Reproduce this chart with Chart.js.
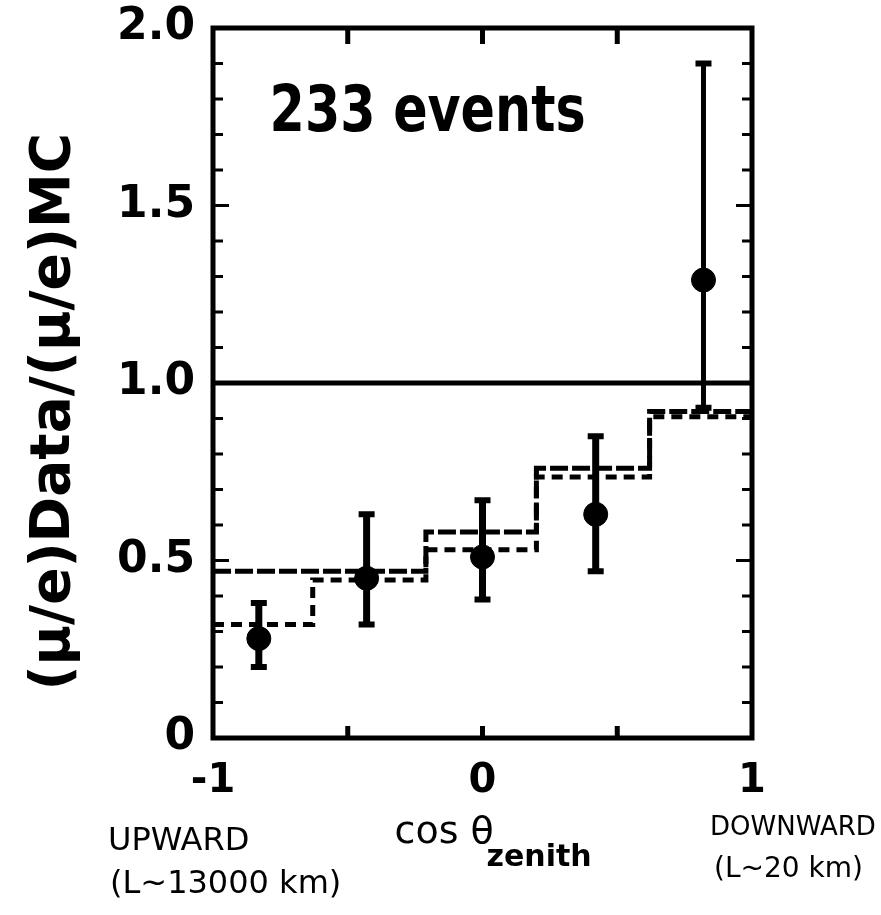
<!DOCTYPE html>
<html>
<head>
<meta charset="utf-8">
<script src="https://cdn.jsdelivr.net/npm/chart.js@4/dist/chart.umd.min.js"></script>
<style>
  body { margin: 0; background: #fff; }
  canvas { display: block; }
</style>
</head>
<body>
<canvas id="chart" width="881" height="915"></canvas>
<script>
// bin edges in cos(zenith)
const binEdges = [-1, -0.63, -0.21, 0.2, 0.62, 1];
// the two MC expectation histograms (one value per bin)
const mcUpper = [0.47, 0.47, 0.58, 0.76, 0.92];
const mcLower = [0.32, 0.445, 0.53, 0.735, 0.905];
// data points with errors
const cosZenith = [-0.83, -0.43, 0.0, 0.42, 0.82];
const ratio = [0.28, 0.45, 0.51, 0.63, 1.29];
const errLow = [0.20, 0.32, 0.39, 0.47, 0.93];
const errHigh = [0.38, 0.63, 0.67, 0.85, 1.90];
const noOscillation = [1.0, 1.0];
const yTickLabels = { 0: "0", 5: "0.5", 10: "1.0", 15: "1.5", 20: "2.0" };
const xTickLabels = { "-1": "-1", "0": "0", "1": "1" };

function histPoints(values) {
  // stepped line: each point's y holds until the next edge
  const pts = values.map((v, i) => ({ x: binEdges[i], y: v }));
  pts.push({ x: binEdges[binEdges.length - 1], y: values[values.length - 1] });
  return pts;
}

const errorBars = {
  id: "errorBars",
  afterDatasetsDraw(chart) {
    const { ctx, scales: { x, y } } = chart;
    ctx.save();
    ctx.strokeStyle = "#000";
    cosZenith.forEach((c, i) => {
      const px = x.getPixelForValue(c);
      const lo = y.getPixelForValue(errLow[i]);
      const hi = y.getPixelForValue(errHigh[i]);
      ctx.lineWidth = i === 4 ? 5 : 7;
      ctx.beginPath();
      ctx.moveTo(px, lo);
      ctx.lineTo(px, hi);
      ctx.stroke();
      ctx.lineWidth = 6;
      ctx.beginPath();
      ctx.moveTo(px - 8, lo); ctx.lineTo(px + 8, lo);
      ctx.moveTo(px - 8, hi); ctx.lineTo(px + 8, hi);
      ctx.stroke();
    });
    ctx.restore();
  }
};

const frame = {
  id: "frame",
  afterDraw(chart) {
    const { ctx, chartArea: a, scales: { x, y } } = chart;
    ctx.save();
    ctx.strokeStyle = "#000";
    ctx.fillStyle = "#000";
    ctx.lineWidth = 5;
    ctx.strokeRect(a.left, a.top, a.right - a.left, a.bottom - a.top);

    // inward ticks on left and right
    ctx.lineWidth = 3;
    y.ticks.forEach((t) => {
      const k = Math.round(t.value * 10);
      if (k === 0 || k === 20) return;
      const len = k % 5 === 0 ? 16 : 10;
      const py = y.getPixelForValue(t.value);
      ctx.beginPath();
      ctx.moveTo(a.left, py); ctx.lineTo(a.left + len, py);
      ctx.moveTo(a.right, py); ctx.lineTo(a.right - len, py);
      ctx.stroke();
    });
    // inward ticks on top and bottom
    ctx.lineWidth = 5;
    x.ticks.forEach((t) => {
      if (Math.abs(t.value) > 0.99) return;
      const px = x.getPixelForValue(t.value);
      ctx.beginPath();
      ctx.moveTo(px, a.top); ctx.lineTo(px, a.top + 16);
      ctx.moveTo(px, a.bottom); ctx.lineTo(px, a.bottom - 12);
      ctx.stroke();
    });

    // annotation inside the plot
    ctx.font = 'bold 64px "DejaVu Sans Condensed", "DejaVu Sans", sans-serif';
    ctx.textBaseline = "alphabetic";
    ctx.textAlign = "left";
    ctx.fillText("233 events", x.getPixelForValue(-0.79), y.getPixelForValue(1.71), 316);

    // labels under the x axis
    const x0 = x.getPixelForValue(-1), xm = x.getPixelForValue(0), x1 = x.getPixelForValue(1);
    ctx.font = '32px "DejaVu Sans", sans-serif';
    ctx.fillText("UPWARD", x0 - 105, 850);
    ctx.fillText("(L~13000 km)", x0 - 103, 893);
    ctx.font = '38px "DejaVu Sans", sans-serif';
    ctx.fillText("cos θ", xm - 88, 843);
    ctx.font = 'bold 30px "DejaVu Sans", sans-serif';
    ctx.fillText("zenith", xm + 4, 866);
    ctx.font = '26px "DejaVu Sans", sans-serif';
    ctx.fillText("DOWNWARD", x1 - 42, 835);
    ctx.font = '28px "DejaVu Sans", sans-serif';
    ctx.fillText("(L~20 km)", x1 - 38, 877);
    ctx.restore();
  }
};

new Chart(document.getElementById("chart"), {
  type: "scatter",
  data: {
    datasets: [
      {
        type: "line",
        data: histPoints(mcUpper),
        stepped: true,
        borderColor: "#000",
        borderWidth: 5,
        borderDash: [18, 4],
        pointRadius: 0,
        fill: false,
      },
      {
        type: "line",
        data: histPoints(mcLower),
        stepped: true,
        borderColor: "#000",
        borderWidth: 5,
        borderDash: [11, 7],
        pointRadius: 0,
        fill: false,
      },
      {
        type: "line",
        data: noOscillation.map((v, i) => ({ x: binEdges[0] + i * 2, y: v })),
        borderColor: "#000",
        borderWidth: 5,
        pointRadius: 0,
        fill: false,
      },
      {
        data: cosZenith.map((c, i) => ({ x: c, y: ratio[i] })),
        backgroundColor: "#000",
        borderColor: "#000",
        pointRadius: 12,
        pointHoverRadius: 12,
      },
    ],
  },
  options: {
    responsive: false,
    animation: false,
    layout: { padding: { top: 28, right: 129, left: 0, bottom: 0 } },
    plugins: { legend: { display: false }, tooltip: { enabled: false } },
    scales: {
      x: {
        type: "linear",
        min: -1,
        max: 1,
        grid: { display: false },
        border: { display: false },
        ticks: {
          stepSize: 0.5,
          padding: 12,
          color: "#000",
          font: { family: "DejaVu Sans", size: 40, weight: "bold" },
          callback: (v) => xTickLabels[String(v)] || "",
        },
        afterFit: (s) => { s.height = 177; s.paddingLeft = 0; s.paddingRight = 0; },
      },
      y: {
        min: 0,
        max: 2,
        grid: { display: false },
        border: { display: false },
        ticks: {
          stepSize: 0.1,
          padding: 10,
          autoSkip: false,
          color: "#000",
          font: { family: "DejaVu Sans", size: 44, weight: "bold" },
          callback: (v) => yTickLabels[Math.round(v * 10)] || "",
        },
        title: {
          display: true,
          text: "(μ/e)Data/(μ/e)MC   ",
          color: "#000",
          font: { family: "DejaVu Sans", size: 55, weight: "bold" },
          padding: { top: 22, bottom: 0 },
        },
        afterFit: (s) => { s.width = 213; s.paddingTop = 0; s.paddingBottom = 0; },
      },
    },
  },
  plugins: [errorBars, frame],
});
</script>
</body>
</html>
